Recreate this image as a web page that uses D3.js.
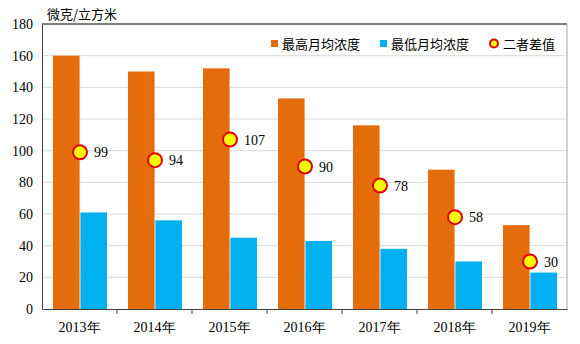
<!DOCTYPE html>
<html>
<head>
<meta charset="utf-8">
<script src="https://cdn.jsdelivr.net/npm/d3@7"></script>
<style>
body { margin: 0; background: #fff; }
svg text { fill: #000; }
</style>
</head>
<body>
<div id="chart"></div>
<script>
var years = ["2013年", "2014年", "2015年", "2016年", "2017年", "2018年", "2019年"]
var maxVals = [160, 150, 152, 133, 116, 88, 53]
var minVals = [61, 56, 45, 43, 38, 30, 23]
var diffVals = [99, 94, 107, 90, 78, 58, 30]
var yTicks = [0, 20, 40, 60, 80, 100, 120, 140, 160, 180]
var unitLabel = "微克/立方米"
var legendNames = ["最高月均浓度", "最低月均浓度", "二者差值"]

var W = 580, H = 344
var m = {top: 24, right: 13, bottom: 35, left: 42}
var serif = "'Liberation Serif', 'Times New Roman', serif"
var cjk = "'Noto Sans CJK SC', sans-serif"

var svg = d3.select("#chart").append("svg").attr("width", W).attr("height", H)

var x = d3.scaleBand().domain(years).range([m.left, W - m.right]).paddingInner(0).paddingOuter(0)
var y = d3.scaleLinear().domain([0, 180]).range([H - m.bottom, m.top])
var inner = d3.scaleBand().domain(["max", "min"]).range([11, x.bandwidth() - 10]).paddingInner(0.03)

// grid
svg.append("g").selectAll("line").data(yTicks.filter(function(d) { return d > 0 && d < 180 }))
  .enter().append("line")
  .attr("x1", m.left).attr("x2", W - m.right)
  .attr("y1", function(d) { return y(d) }).attr("y2", function(d) { return y(d) })
  .attr("stroke", "#d9d9d9").attr("stroke-width", 1)

// frame top + right
svg.append("line").attr("x1", m.left).attr("x2", W - m.right).attr("y1", y(180)).attr("y2", y(180))
  .attr("stroke", "#000").attr("stroke-width", 1)
svg.append("line").attr("x1", W - m.right).attr("x2", W - m.right).attr("y1", y(180)).attr("y2", y(0))
  .attr("stroke", "#a6a6a6").attr("stroke-width", 1)

// bars
var g = svg.append("g")
g.selectAll(".bmax").data(maxVals).enter().append("rect")
  .attr("x", function(d, i) { return x(years[i]) + inner("max") })
  .attr("y", function(d) { return y(d) })
  .attr("width", inner.bandwidth())
  .attr("height", function(d) { return y(0) - y(d) })
  .attr("fill", "#e46c0a")
g.selectAll(".bmin").data(minVals).enter().append("rect")
  .attr("x", function(d, i) { return x(years[i]) + inner("min") })
  .attr("y", function(d) { return y(d) })
  .attr("width", inner.bandwidth())
  .attr("height", function(d) { return y(0) - y(d) })
  .attr("fill", "#00b0f0")

// axes
var yAxis = svg.append("g").attr("transform", "translate(" + m.left + ",0)")
  .call(d3.axisLeft(y).tickValues(yTicks).tickSize(0).tickPadding(9))
yAxis.attr("font-family", serif)
yAxis.select(".domain").attr("stroke", "#404040")
yAxis.selectAll("text").style("font-family", serif).attr("font-size", 14).attr("fill", "#000")

var xAxis = svg.append("g").attr("transform", "translate(0," + y(0) + ")")
  .call(d3.axisBottom(x).tickSize(0).tickPadding(13))
xAxis.attr("font-family", serif)
xAxis.select(".domain").attr("stroke", "#404040")
xAxis.selectAll("text").style("font-family", serif).attr("font-size", 14).attr("fill", "#000")
xAxis.selectAll(".sep").data(years.slice(1)).enter().append("line")
  .attr("x1", function(d) { return x(d) }).attr("x2", function(d) { return x(d) })
  .attr("y1", 0).attr("y2", 5).attr("stroke", "#404040")

// difference markers
var cx = function(i) { return x(years[i]) + inner("min") - inner.step() * inner.paddingInner() / 2 }
svg.append("g").selectAll("circle").data(diffVals).enter().append("circle")
  .attr("cx", function(d, i) { return cx(i) })
  .attr("cy", function(d) { return y(d) })
  .attr("r", 7)
  .attr("fill", "#ffff00").attr("stroke", "#e00000").attr("stroke-width", 2)
svg.append("g").selectAll("text").data(diffVals).enter().append("text")
  .attr("x", function(d, i) { return cx(i) + 14 })
  .attr("y", function(d) { return y(d) + 5 })
  .style("font-family", serif).attr("font-size", 14)
  .text(function(d) { return d })

// unit label
svg.append("text").attr("x", 47).attr("y", 19).attr("font-family", cjk).attr("font-size", 13).text(unitLabel)

// legend
var lg = svg.append("g").attr("font-family", cjk).attr("font-size", 13)
lg.append("rect").attr("x", 271).attr("y", 40).attr("width", 7).attr("height", 7).attr("fill", "#e46c0a")
lg.append("text").attr("x", 282).attr("y", 48.5).text(legendNames[0])
lg.append("rect").attr("x", 380).attr("y", 40).attr("width", 7).attr("height", 7).attr("fill", "#00b0f0")
lg.append("text").attr("x", 391).attr("y", 48.5).text(legendNames[1])
lg.append("circle").attr("cx", 494).attr("cy", 43.5).attr("r", 4).attr("fill", "#ffff00").attr("stroke", "#e00000").attr("stroke-width", 2)
lg.append("text").attr("x", 503).attr("y", 48.5).text(legendNames[2])
</script>
</body>
</html>
